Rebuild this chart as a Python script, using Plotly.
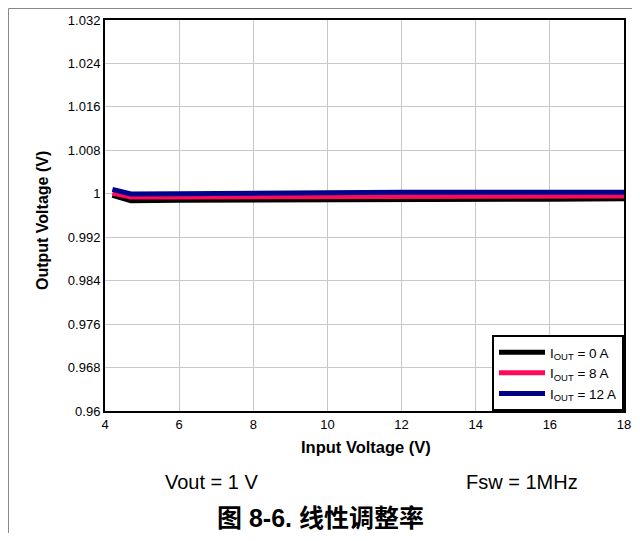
import plotly.graph_objects as go

vin = [4.2, 4.7, 6, 8, 10, 12, 14, 16, 18]
vout_0a = [0.9997, 0.9987, 0.9988, 0.9988, 0.9989, 0.9990, 0.9990, 0.9990, 0.9991]
vout_8a = [1.00015, 0.9994, 0.9994, 0.99945, 0.9995, 0.9996, 0.9996, 0.9996, 0.9996]
vout_12a = [1.0008, 0.99995, 1.0000, 1.0002, 1.0002, 1.0003, 1.0003, 1.0003, 1.0003]
series_names = ["I<sub>OUT</sub> = 0 A", "I<sub>OUT</sub> = 8 A", "I<sub>OUT</sub> = 12 A"]
series_colors = ["#000000", "#ff0a5a", "#00008b"]

x_ticks = [4, 6, 8, 10, 12, 14, 16, 18]
y_ticks = [0.96, 0.968, 0.976, 0.984, 0.992, 1.0, 1.008, 1.016, 1.024, 1.032]
y_ticktext = ["0.96", "0.968", "0.976", "0.984", "0.992", "1", "1.008", "1.016", "1.024", "1.032"]

FONT = "Arial, 'Liberation Sans', 'Noto Sans CJK SC', sans-serif"

fig = go.Figure()
for ys, name, col in zip([vout_0a, vout_8a, vout_12a], series_names, series_colors):
    fig.add_trace(go.Scatter(x=vin, y=ys, mode="lines", name=name,
                             line=dict(color=col, width=5)))

# page body has an 8px margin on every side; keep the figure inside the viewport
OFF = 8
W, H = 640 - 2 * OFF, 541 - 2 * OFF
PL, PR, PT, PB = 105, 624, 20, 411   # plot area in page pixels
L, R, T, B = PL - OFF, (W + OFF - PR), PT - OFF, (H + OFF - PB)
pw, ph = PR - PL, PB - PT

def px(x):
    return (x - PL) / pw

def py(y):
    return (PB - y) / ph

def ann(text, x, y, size, angle=0):
    return dict(text=text, x=px(x), y=py(y), xref="paper", yref="paper",
                xanchor="center", yanchor="middle", showarrow=False,
                textangle=angle, font=dict(size=size))

fig.update_layout(
    width=W, height=H,
    margin=dict(l=L, r=R, t=T, b=B, autoexpand=False),
    paper_bgcolor="white", plot_bgcolor="white",
    font=dict(family=FONT, size=13, color="black"),
    showlegend=True,
    legend=dict(x=1, y=0, xanchor="right", yanchor="bottom",
                bordercolor="black", borderwidth=2, bgcolor="white",
                font=dict(size=13.5, family=FONT), tracegroupgap=0,
                itemwidth=46),
    xaxis=dict(range=[4, 18], tickvals=x_ticks, showgrid=True, gridcolor="#c8c8c8",
               gridwidth=1, showline=True, linecolor="black", linewidth=2, mirror=True,
               ticks="", zeroline=False, tickfont=dict(size=13)),
    yaxis=dict(range=[0.96, 1.032], tickvals=y_ticks, ticktext=y_ticktext, showgrid=True,
               gridcolor="#c8c8c8", gridwidth=1, showline=True, linecolor="black",
               linewidth=2, mirror=True, ticks="", zeroline=False, tickfont=dict(size=13)),
    annotations=[
        ann("<b>Input Voltage (V)</b>", 366, 447, 16.5),
        ann("<b>Output Voltage (V)</b>", 42, 221, 16, -90),
        ann("Vout = 1 V", 212, 482, 20),
        ann("Fsw = 1MHz", 522, 482, 20),
        ann("<b>图 8-6. 线性调整率</b>", 320, 518, 25),
    ],
    shapes=[
        dict(type="line", xref="paper", yref="paper", x0=px(8.5), x1=px(8.5),
             y0=py(8.5), y1=py(541), line=dict(color="#888888", width=1)),
        dict(type="line", xref="paper", yref="paper", x0=px(8.5), x1=px(640),
             y0=py(8.5), y1=py(8.5), line=dict(color="#888888", width=1)),
    ],
)

fig.write_html("out.html")
